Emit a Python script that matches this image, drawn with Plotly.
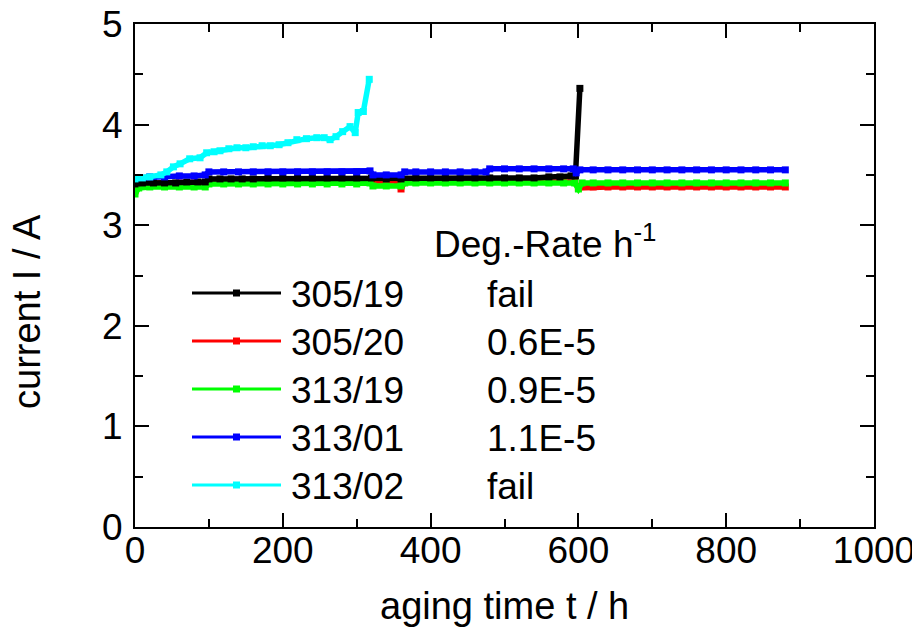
import plotly.graph_objects as go

# ---------------- data ----------------
t_305_19 = [0, 10, 25, 40, 55, 70, 85, 95, 100, 115, 130, 145, 160, 180, 200, 220, 240, 260, 280,
            300, 320, 340, 360, 380, 400, 420, 440, 460, 480, 500, 520, 540, 560, 575, 590, 596, 602]
i_305_19 = [3.41, 3.42, 3.42, 3.42, 3.42, 3.43, 3.43, 3.43, 3.46, 3.46, 3.46, 3.46, 3.46,
            3.47, 3.47, 3.47, 3.47, 3.47, 3.47, 3.47, 3.47, 3.46, 3.46,
            3.47, 3.47, 3.47, 3.47, 3.47, 3.47, 3.47, 3.47, 3.47, 3.48, 3.48, 3.49, 3.49, 4.36]

t_305_20 = [0, 5, 20, 40, 60, 80, 95, 100, 120, 140, 160, 180, 200, 220, 240, 260, 280, 300, 320, 340,
            355, 360, 365, 380, 400, 420, 440, 460, 480, 500, 520, 540, 560, 580, 595, 600,
            620, 640, 660, 680, 700, 720, 740, 760, 780, 800, 820, 840, 860, 880]
i_305_20 = [3.34, 3.42, 3.42, 3.42, 3.42, 3.42, 3.42,
            3.44, 3.44, 3.44, 3.44, 3.44, 3.44, 3.44, 3.44, 3.44, 3.44, 3.44, 3.44, 3.44,
            3.44, 3.36, 3.43,
            3.43, 3.43, 3.43, 3.43, 3.43, 3.43, 3.43, 3.43, 3.43, 3.43, 3.43, 3.43,
            3.37,
            3.38, 3.38, 3.38, 3.38, 3.38, 3.38, 3.38, 3.38, 3.38, 3.38, 3.38, 3.38, 3.38, 3.38]

t_313_19 = [0, 5, 20, 40, 60, 80, 95, 100, 120, 140, 160, 180, 200, 220, 240, 260, 280, 300,
            318, 322, 340, 360, 365, 380, 400, 420, 440, 460, 480, 500, 520, 540, 560, 580, 595,
            600, 605, 620, 640, 660, 680, 700, 720, 740, 760, 780, 800, 820, 840, 860, 880]
i_313_19 = [3.31, 3.37, 3.38, 3.38, 3.38, 3.38, 3.38,
            3.41, 3.41, 3.41, 3.41, 3.41, 3.41, 3.41, 3.41, 3.41, 3.41, 3.41,
            3.42, 3.39, 3.39, 3.39, 3.42,
            3.42, 3.42, 3.42, 3.42, 3.42, 3.42, 3.42, 3.42, 3.42, 3.42, 3.42, 3.42,
            3.36, 3.42,
            3.42, 3.42, 3.42, 3.42, 3.42, 3.42, 3.42, 3.42, 3.42, 3.42, 3.42, 3.42, 3.42, 3.42]

t_313_01 = [0, 20, 40, 60, 80, 95, 100, 120, 140, 160, 180, 200, 220, 240, 260, 280, 300,
            318, 322, 340, 360, 365, 380, 400, 420, 440, 460, 475, 480, 500, 520, 540, 560, 580,
            593, 597, 602, 620, 640, 660, 680, 700, 720, 740, 760, 780, 800, 820, 840, 860, 880]
i_313_01 = [3.47, 3.48, 3.48, 3.49, 3.49, 3.50,
            3.53, 3.53, 3.53, 3.53, 3.53, 3.53, 3.53, 3.53, 3.53, 3.53, 3.53,
            3.54, 3.50, 3.50, 3.50, 3.53,
            3.53, 3.53, 3.53, 3.53, 3.53, 3.53,
            3.56, 3.56, 3.56, 3.56, 3.56, 3.56,
            3.56, 3.52, 3.55,
            3.55, 3.55, 3.55, 3.55, 3.55, 3.55, 3.55, 3.55, 3.55, 3.55, 3.55, 3.55, 3.55, 3.55]

t_313_02 = [0, 10, 20, 35, 43, 52, 61, 74, 88, 97, 107, 115, 127, 138, 150, 160, 172, 183, 195,
            207, 219, 232, 246, 256, 264, 272, 281, 291, 298, 302, 309, 317]
i_313_02 = [3.46, 3.47, 3.48, 3.50, 3.53, 3.58, 3.61, 3.66, 3.67, 3.72, 3.73, 3.74, 3.76, 3.77,
            3.77, 3.78, 3.79, 3.79, 3.80, 3.82, 3.85, 3.86, 3.87, 3.87, 3.85, 3.88, 3.93, 3.98,
            3.92, 4.12, 4.13, 4.45]

sample_names = ["305/19", "305/20", "313/19", "313/01", "313/02"]
deg_rates = ["fail", "0.6E-5", "0.9E-5", "1.1E-5", "fail"]
x_ticks = [0, 200, 400, 600, 800, 1000]
y_ticks = [0, 1, 2, 3, 4, 5]

series = {
    "305/19": (t_305_19, i_305_19, "#000000"),
    "305/20": (t_305_20, i_305_20, "#ff0000"),
    "313/19": (t_313_19, i_313_19, "#00ff00"),
    "313/01": (t_313_01, i_313_01, "#0000ff"),
    "313/02": (t_313_02, i_313_02, "#00ffff"),
}
draw_order = ["305/20", "313/19", "305/19", "313/01", "313/02"]

FONT = "Arial, Liberation Sans, sans-serif"
FS = 37        # tick labels and legend text
FS_TITLE = 38  # axis titles

fig = go.Figure()
for name in draw_order:
    t, i, c = series[name]
    fig.add_trace(go.Scatter(
        x=t, y=i, name=name, mode="lines+markers",
        line=dict(color=c, width=5.5),
        marker=dict(symbol="square", size=7, color=c, line=dict(width=0)),
        showlegend=False))

# plot area in screen pixels (the page body adds an 8 px offset)
OFF = 8
L, R, T, B = 135, 874, 24, 527
def px2x(px):
    return (px - L) / (R - L) * 1000
def py2y(py):
    return (B - py) / (B - T) * 5
def px2paper(px):
    return (px - L) / (R - L)
def py2paper(py):
    return (B - py) / (B - T)

shapes = []
annotations = []
row_py = [293, 341, 389, 437, 485]
for k, name in enumerate(sample_names):
    c = series[name][2]
    yy = py2y(row_py[k])
    shapes.append(dict(type="line", xref="x", yref="y", x0=px2x(192), x1=px2x(281), y0=yy, y1=yy,
                       line=dict(color=c, width=3)))
    shapes.append(dict(type="rect", xref="x", yref="y", xsizemode="pixel", ysizemode="pixel",
                       xanchor=px2x(236.5), yanchor=yy, x0=-3.5, x1=3.5, y0=-3.5, y1=3.5,
                       fillcolor=c, line=dict(width=0)))
    annotations.append(dict(x=px2x(289), y=py2y(row_py[k] + 1), xref="x", yref="y", text=name,
                            showarrow=False, xanchor="left", yanchor="middle",
                            font=dict(family=FONT, size=FS, color="black")))
    annotations.append(dict(x=px2x(485), y=py2y(row_py[k] + 1), xref="x", yref="y", text=deg_rates[k],
                            showarrow=False, xanchor="left", yanchor="middle",
                            font=dict(family=FONT, size=FS, color="black")))

annotations.append(dict(x=px2x(432), y=py2y(241), xref="x", yref="y", text="Deg.-Rate h<sup>-1</sup>",
                        showarrow=False, xanchor="left", yanchor="middle",
                        font=dict(family=FONT, size=FS, color="black")))
annotations.append(dict(x=px2paper(27), y=py2paper(312), xref="paper", yref="paper", text="current I / A",
                        textangle=-90, showarrow=False, xanchor="center", yanchor="middle",
                        font=dict(family=FONT, size=FS_TITLE, color="black")))
annotations.append(dict(x=px2paper(504), y=py2paper(606), xref="paper", yref="paper", text="aging time t / h",
                        showarrow=False, xanchor="center", yanchor="middle",
                        font=dict(family=FONT, size=FS_TITLE, color="black")))

axis_common = dict(showline=True, linecolor="black", linewidth=2, mirror="ticks",
                   ticks="inside", ticklen=14, tickwidth=2, tickcolor="black",
                   showgrid=False, zeroline=False, automargin=False, ticklabeloverflow="allow",
                   tickfont=dict(family=FONT, size=FS, color="black"))

fig.update_layout(
    width=920, height=633,
    margin=dict(l=L - OFF, r=920 - (R - OFF), t=T - OFF, b=633 - (B - OFF), pad=0, autoexpand=False),
    paper_bgcolor="white", plot_bgcolor="white",
    font=dict(family=FONT, size=FS, color="black"),
    xaxis=dict(range=[0, 1000], tickvals=x_ticks, ticktext=[str(v) for v in x_ticks],
               minor=dict(dtick=100, tick0=0, ticks="inside", ticklen=8, tickwidth=1.5, tickcolor="black"),
               ticklabelstandoff=-10, **axis_common),
    yaxis=dict(range=[0, 5], tickvals=y_ticks, ticktext=[str(v) for v in y_ticks],
               minor=dict(dtick=0.5, tick0=0, ticks="inside", ticklen=8, tickwidth=1.5, tickcolor="black"),
               ticklabelstandoff=3, **axis_common),
    shapes=shapes, annotations=annotations,
)

fig.write_html("out.html")
